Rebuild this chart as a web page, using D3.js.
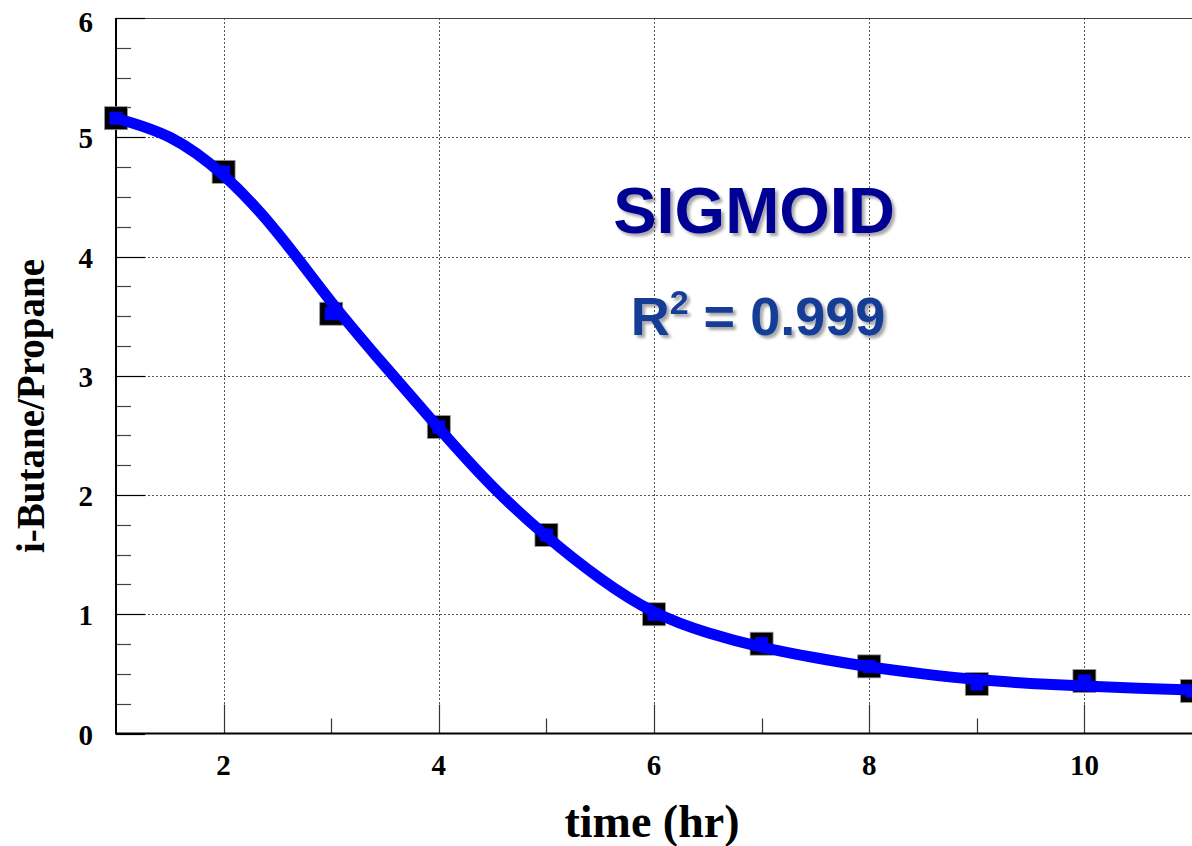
<!DOCTYPE html>
<html>
<head>
<meta charset="utf-8">
<script src="https://cdn.jsdelivr.net/npm/d3@7"></script>
<style>
  html, body { margin: 0; padding: 0; background: #fff; }
  svg { display: block; }
</style>
</head>
<body>
<svg id="chart" width="1192" height="846"></svg>
<script>
// Measured i-Butane/Propane ratio by hour
const timeHr = [1, 2, 3, 4, 5, 6, 7, 8, 9, 10, 11];
const ratio = [5.16, 4.71, 3.52, 2.57, 1.665, 1.0, 0.753, 0.563, 0.415, 0.44, 0.356];

// Sigmoid fit curve, sampled every half hour
const fitTime = [1, 1.5, 2, 2.5, 3, 3.5, 4, 4.5, 5, 5.5, 6, 6.5, 7, 7.5, 8, 8.5, 9, 9.5, 10, 10.5, 11];
const fitRatio = [5.16, 5.0, 4.68, 4.2, 3.62, 3.08, 2.56, 2.07, 1.655, 1.3, 1.02, 0.845, 0.725, 0.635, 0.56, 0.5, 0.452, 0.42, 0.398, 0.38, 0.365];

const xTicksMajor = [2, 4, 6, 8, 10];
const xTicksMinor = [3, 5, 7, 9];
const yTicksMajor = [0, 1, 2, 3, 4, 5, 6];
const yTicksMinor = d3.range(0, 6, 0.25).filter(v => v % 1 !== 0);

const titleText = "SIGMOID";
const fitText = "R";
const fitSup = "2";
const fitValue = " = 0.999";
const xTitle = "time (hr)";
const yTitle = "i-Butane/Propane";

const svg = d3.select("#chart");
const plotL = 116, plotR = 1192, plotT = 18, plotB = 733.5;

const x = d3.scaleLinear().domain([1, 11]).range([plotL, plotR]);
const y = d3.scaleLinear().domain([0, 6]).range([plotB, plotT]);

const serif = "'Liberation Serif', 'Times New Roman', serif";
const sans = "'Liberation Sans', Arial, sans-serif";

// drop shadow for the annotation text
const defs = svg.append("defs");
const f = defs.append("filter").attr("id", "shadow")
  .attr("x", "-10%").attr("y", "-20%").attr("width", "130%").attr("height", "150%");
f.append("feGaussianBlur").attr("in", "SourceAlpha").attr("stdDeviation", 1.8).attr("result", "b");
f.append("feOffset").attr("in", "b").attr("dx", 3).attr("dy", 3).attr("result", "o");
f.append("feComponentTransfer").attr("in", "o").attr("result", "s")
  .append("feFuncA").attr("type", "linear").attr("slope", 0.35);
const m = f.append("feMerge");
m.append("feMergeNode").attr("in", "s");
m.append("feMergeNode").attr("in", "SourceGraphic");

// grid lines
const grid = svg.append("g").attr("stroke", "#555").attr("stroke-width", 1)
  .attr("stroke-dasharray", "2,2");
grid.selectAll("line.gx").data(xTicksMajor).join("line")
  .attr("x1", d => Math.round(x(d)) + 0.5).attr("x2", d => Math.round(x(d)) + 0.5)
  .attr("y1", plotT).attr("y2", plotB);
grid.selectAll("line.gy").data(yTicksMajor.filter(v => v > 0 && v < 6)).join("line")
  .attr("y1", d => Math.round(y(d)) + 0.5).attr("y2", d => Math.round(y(d)) + 0.5)
  .attr("x1", plotL).attr("x2", plotR);

// frame
svg.append("line").attr("x1", plotL).attr("x2", plotR).attr("y1", plotT + 0.5).attr("y2", plotT + 0.5)
  .attr("stroke", "#444").attr("stroke-width", 1);

// axis ticks (inward)
const ticks = svg.append("g");
ticks.selectAll("line.ymaj").data(yTicksMajor).join("line")
  .attr("x1", plotL).attr("x2", plotL + 29)
  .attr("y1", d => Math.round(y(d)) + 0.5).attr("y2", d => Math.round(y(d)) + 0.5)
  .attr("stroke", "#000").attr("stroke-width", 1.2);
ticks.selectAll("line.ymin").data(yTicksMinor).join("line")
  .attr("x1", plotL).attr("x2", plotL + 15)
  .attr("y1", d => Math.round(y(d)) + 0.5).attr("y2", d => Math.round(y(d)) + 0.5)
  .attr("stroke", "#444").attr("stroke-width", 1.2);
ticks.selectAll("line.xmaj").data(xTicksMajor).join("line")
  .attr("x1", d => Math.round(x(d)) + 0.5).attr("x2", d => Math.round(x(d)) + 0.5)
  .attr("y1", plotB).attr("y2", plotB - 29)
  .attr("stroke", "#333").attr("stroke-width", 1.2);
ticks.selectAll("line.xmin").data(xTicksMinor).join("line")
  .attr("x1", d => Math.round(x(d)) + 0.5).attr("x2", d => Math.round(x(d)) + 0.5)
  .attr("y1", plotB).attr("y2", plotB - 15)
  .attr("stroke", "#333").attr("stroke-width", 1.2);

// axis lines
svg.append("line").attr("x1", plotL).attr("x2", plotL).attr("y1", plotT).attr("y2", plotB + 1)
  .attr("stroke", "#000").attr("stroke-width", 2);
svg.append("line").attr("x1", plotL).attr("x2", plotR).attr("y1", plotB).attr("y2", plotB)
  .attr("stroke", "#000").attr("stroke-width", 2);

// tick labels
svg.append("g").selectAll("text").data(yTicksMajor).join("text")
  .attr("x", 93).attr("y", d => d === 6 ? y(d) + 14 : y(d) + 11)
  .attr("text-anchor", "end")
  .attr("font-family", serif).attr("font-weight", "bold").attr("font-size", 29)
  .text(d => d);
svg.append("g").selectAll("text").data(xTicksMajor).join("text")
  .attr("x", d => x(d)).attr("y", 775)
  .attr("text-anchor", "middle")
  .attr("font-family", serif).attr("font-weight", "bold").attr("font-size", 29)
  .text(d => d);

// axis titles
svg.append("text").attr("x", 652).attr("y", 837)
  .attr("text-anchor", "middle")
  .attr("font-family", serif).attr("font-weight", "bold").attr("font-size", 46)
  .text(xTitle);
svg.append("text").attr("transform", "translate(44,406) rotate(-90)")
  .attr("text-anchor", "middle")
  .attr("font-family", serif).attr("font-weight", "bold").attr("font-size", 39)
  .text(yTitle);

// data markers (black squares)
const pts = timeHr.map((t, i) => ({ t, v: ratio[i] }));
const outer = 23, inner = 13;
svg.append("g").selectAll("rect").data(pts).join("rect")
  .attr("x", d => x(d.t) - outer / 2).attr("y", d => y(d.v) - outer / 2)
  .attr("width", outer).attr("height", outer)
  .attr("fill", "#000").attr("stroke", "#999").attr("stroke-width", 0.8);

// fitted curve
const fit = fitTime.map((t, i) => ({ t, v: fitRatio[i] }));
svg.append("path").datum(fit)
  .attr("d", d3.line().x(d => x(d.t)).y(d => y(d.v)).curve(d3.curveNatural))
  .attr("fill", "none").attr("stroke", "#0000ff").attr("stroke-width", 11)
  .attr("stroke-linecap", "butt");

// inner blue squares
svg.append("g").selectAll("rect").data(pts).join("rect")
  .attr("x", d => x(d.t) - inner / 2).attr("y", d => y(d.v) - inner / 2)
  .attr("width", inner).attr("height", inner)
  .attr("fill", "#0000ff");

// annotations
svg.append("text").attr("x", 754).attr("y", 233)
  .attr("text-anchor", "middle")
  .attr("font-family", sans).attr("font-weight", "bold").attr("font-size", 65)
  .attr("fill", "#000093").attr("filter", "url(#shadow)")
  .text(titleText);
const r2 = svg.append("text").attr("x", 758).attr("y", 335)
  .attr("text-anchor", "middle")
  .attr("font-family", sans).attr("font-weight", "bold").attr("font-size", 54)
  .attr("fill", "#173d96").attr("filter", "url(#shadow)");
r2.append("tspan").text(fitText);
r2.append("tspan").attr("dy", -21).attr("font-size", 34).text(fitSup);
r2.append("tspan").attr("dy", 21).text(fitValue);
</script>
</body>
</html>
